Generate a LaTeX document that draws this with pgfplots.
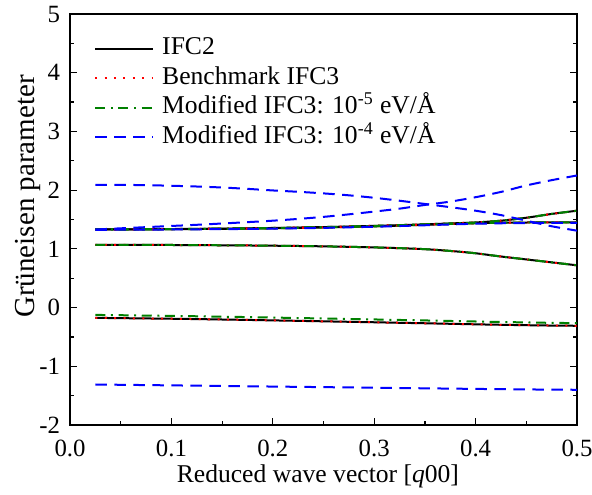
\documentclass[border=0pt]{standalone}
\usepackage{fontspec}
\setmainfont{Liberation Serif}
\usepackage{pgfplots}
\usepackage{pgfplotstable}
\pgfplotsset{compat=1.18}

% IFC2 (black) and Benchmark IFC3 (red) -- identical branches
\pgfplotstableread{
q     L1     L2     L3     L4
0.025 1.330  1.330  1.070  -0.175
0.050 1.332  1.331  1.069  -0.180
0.075 1.335  1.333  1.068  -0.185
0.100 1.338  1.335  1.066  -0.190
0.125 1.341  1.338  1.064  -0.196
0.150 1.345  1.341  1.061  -0.203
0.175 1.350  1.345  1.058  -0.210
0.200 1.356  1.350  1.054  -0.218
0.225 1.363  1.357  1.049  -0.226
0.250 1.371  1.365  1.043  -0.234
0.275 1.381  1.374  1.035  -0.242
0.300 1.392  1.384  1.025  -0.250
0.325 1.404  1.396  1.012  -0.259
0.350 1.418  1.410  0.995  -0.267
0.375 1.433  1.424  0.965  -0.276
0.400 1.450  1.437  0.925  -0.285
0.425 1.480  1.445  0.870  -0.293
0.450 1.530  1.449  0.820  -0.300
0.475 1.595  1.451  0.770  -0.306
0.500 1.650  1.452  0.720  -0.310
}\ifctwo

% Modified IFC3: 1e-5 eV/A (green)
\pgfplotstableread{
q     L1     L2     L3     L4
0.025 1.330  1.330  1.070  -0.125
0.050 1.332  1.331  1.069  -0.130
0.075 1.335  1.333  1.068  -0.136
0.100 1.338  1.335  1.066  -0.142
0.125 1.341  1.338  1.064  -0.148
0.150 1.345  1.341  1.061  -0.155
0.175 1.350  1.345  1.058  -0.162
0.200 1.356  1.350  1.054  -0.170
0.225 1.363  1.357  1.049  -0.178
0.250 1.371  1.365  1.043  -0.186
0.275 1.381  1.374  1.035  -0.194
0.300 1.392  1.384  1.025  -0.202
0.325 1.404  1.396  1.012  -0.211
0.350 1.418  1.410  0.995  -0.219
0.375 1.433  1.424  0.965  -0.228
0.400 1.450  1.437  0.925  -0.237
0.425 1.480  1.445  0.870  -0.245
0.450 1.530  1.449  0.820  -0.253
0.475 1.595  1.451  0.770  -0.260
0.500 1.650  1.452  0.720  -0.265
}\modfive

% Modified IFC3: 1e-4 eV/A (blue)
\pgfplotstableread{
q     B1     B2     B3     B4
0.025 2.090  1.330  1.325  -1.310
0.050 2.090  1.350  1.326  -1.315
0.075 2.085  1.370  1.328  -1.320
0.100 2.075  1.390  1.330  -1.325
0.125 2.062  1.410  1.333  -1.330
0.150 2.045  1.432  1.336  -1.335
0.175 2.022  1.455  1.340  -1.340
0.200 1.995  1.480  1.345  -1.345
0.225 1.972  1.510  1.351  -1.350
0.250 1.945  1.545  1.358  -1.355
0.275 1.912  1.588  1.367  -1.360
0.300 1.870  1.635  1.377  -1.365
0.325 1.820  1.685  1.389  -1.370
0.350 1.765  1.748  1.402  -1.375
0.375 1.710  1.805  1.416  -1.380
0.400 1.650  1.880  1.428  -1.385
0.425 1.575  1.970  1.436  -1.390
0.450 1.480  2.080  1.440  -1.394
0.475 1.385  2.170  1.442  -1.397
0.500 1.310  2.250  1.443  -1.400
}\modfour

\begin{document}
\begin{tikzpicture}
\path[use as bounding box] (-35pt,-34.5pt) rectangle (261pt,212.5pt);
\begin{axis}[
  at={(0,0)}, anchor=south west,
  scale only axis, width=253.5pt, height=205.5pt,
  xmin=0, xmax=0.5, ymin=-2, ymax=5,
  xtick={0,0.1,0.2,0.3,0.4,0.5},
  ytick={-2,-1,0,1,2,3,4,5},
  minor x tick num=1, minor y tick num=1,
  tick align=inside, xtick pos=lower, ytick pos=both,
  major tick length=3.5pt, minor tick length=2.2pt,
  axis line style={line width=0.8pt},
  every tick/.style={black, line width=0.6pt},
  /pgf/number format/assume math mode=true,
  tick label style={font=\fontsize{12.4}{14}\selectfont},
  xticklabel style={anchor=base, yshift=-15.5pt, /pgf/number format/.cd, fixed, fixed zerofill, precision=1},
  yticklabel style={xshift=-1.5pt, /pgf/number format/.cd, fixed, precision=0},
  xlabel={Reduced wave vector [\textit{q}00]},
  ylabel={Grüneisen parameter},
  xlabel style={font=\fontsize{12.8}{14}\selectfont, at={(axis description cs:0.489,-0.139)}, anchor=base},
  ylabel style={font=\fontsize{14.5}{16}\selectfont, at={(axis description cs:-0.083,0.556)}, anchor=center, rotate=0},
  legend style={draw=none, fill=none, at={(axis description cs:0.047,0.951)}, anchor=north west,
    font=\fontsize{12.8}{15}\selectfont, inner sep=0pt, row sep=0.75pt,
    nodes={inner sep=1pt, text height=9pt, text depth=3pt}},
  legend cell align=left,
  legend image code/.code={\draw[#1] (0pt,0pt) -- (29pt,0pt); \path (32pt,0pt);},
]
% black IFC2
\addplot[black, line width=1pt, smooth] table[x=q, y=L1] {\ifctwo};
\addlegendentry{IFC2}
\addplot[red, line width=1pt, dash pattern=on 1pt off 3.7pt, smooth, forget plot] table[x=q, y=L1] {\ifctwo};
\addplot[black, line width=1pt, smooth, forget plot] table[x=q, y=L2] {\ifctwo};
\addplot[black, line width=1pt, smooth, forget plot] table[x=q, y=L3] {\ifctwo};
\addplot[black, line width=1pt, smooth, forget plot] table[x=q, y=L4] {\ifctwo};
% red benchmark
\addplot[red, line width=1pt, dash pattern=on 1pt off 3.7pt, smooth] table[x=q, y=L2] {\ifctwo};
\addlegendentry{Benchmark IFC3}
\addplot[red, line width=1pt, dash pattern=on 1pt off 3.7pt, smooth, forget plot] table[x=q, y=L3] {\ifctwo};
\addplot[red, line width=1pt, dash pattern=on 1pt off 3.7pt, smooth, forget plot] table[x=q, y=L4] {\ifctwo};
% green 1e-5
\addplot[green!50!black, line width=1pt, dash pattern=on 5pt off 2.8pt on 1pt off 2.8pt, smooth] table[x=q, y=L1] {\modfive};
\addlegendentry{Modified IFC3: 10\textsuperscript{-5} eV/Å}
\addplot[green!50!black, line width=1pt, dash pattern=on 5pt off 2.8pt on 1pt off 2.8pt, smooth, forget plot] table[x=q, y=L2] {\modfive};
\addplot[green!50!black, line width=1pt, dash pattern=on 5pt off 2.8pt on 1pt off 2.8pt, smooth, forget plot] table[x=q, y=L3] {\modfive};
\addplot[green!50!black, line width=1pt, dash pattern=on 5pt off 2.8pt on 1pt off 2.8pt, smooth, forget plot] table[x=q, y=L4] {\modfive};
% blue 1e-4
\addplot[blue, line width=1pt, dash pattern=on 5.8pt off 3.7pt, smooth] table[x=q, y=B1] {\modfour};
\addlegendentry{Modified IFC3: 10\textsuperscript{-4} eV/Å}
\addplot[blue, line width=1pt, dash pattern=on 5.8pt off 3.7pt, smooth, forget plot] table[x=q, y=B2] {\modfour};
\addplot[blue, line width=1pt, dash pattern=on 5.8pt off 3.7pt, smooth, forget plot] table[x=q, y=B3] {\modfour};
\addplot[blue, line width=1pt, dash pattern=on 5.8pt off 3.7pt, smooth, forget plot] table[x=q, y=B4] {\modfour};
\end{axis}
\end{tikzpicture}
\end{document}
